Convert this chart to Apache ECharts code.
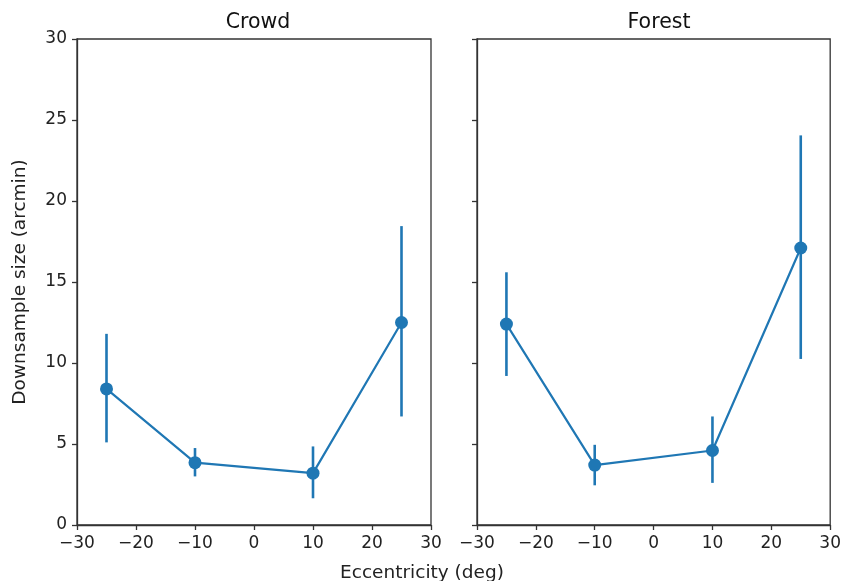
<!DOCTYPE html>
<html>
<head>
<meta charset="utf-8">
<script src="https://cdn.jsdelivr.net/npm/echarts@6/dist/echarts.min.js"></script>
<style>html,body{margin:0;padding:0;background:#fff;}#c{width:844px;height:581px;}</style>
</head>
<body>
<div id="c"></div>
<script>
var eccentricity = [-25, -10, 10, 25];
var crowdMean = [8.4, 3.85, 3.2, 12.5];
var crowdLow = [5.1, 3.0, 1.65, 6.7];
var crowdHigh = [11.8, 4.75, 4.85, 18.45];
var forestMean = [12.4, 3.7, 4.6, 17.1];
var forestLow = [9.2, 2.45, 2.6, 10.25];
var forestHigh = [15.6, 4.95, 6.7, 24.05];
var panelTitles = ['Crowd', 'Forest'];
var xTicks = [-30, -20, -10, 0, 10, 20, 30];
var yTicks = [0, 5, 10, 15, 20, 25, 30];

var COLOR = '#1f77b4';
var FONT = 'DejaVu Sans';
var TICK_FS = 17;
var LABEL_FS = 18.5;
var chart = echarts.init(document.getElementById('c'), null, {renderer: 'canvas'});

function pts(mean) { return eccentricity.map(function (x, i) { return [x, mean[i]]; }); }
function errs(lo, hi) { return eccentricity.map(function (x, i) { return [x, lo[i], hi[i]]; }); }
function fmtMinus(v) { return String(v).replace('-', '\u2212'); }

function errSeries(idx, data) {
  return {
    type: 'custom', xAxisIndex: idx, yAxisIndex: idx, data: data, z: 3,
    renderItem: function (params, api) {
      var a = api.coord([api.value(0), api.value(1)]);
      var b = api.coord([api.value(0), api.value(2)]);
      return {type: 'line', shape: {x1: a[0], y1: a[1], x2: b[0], y2: b[1]},
        style: {stroke: COLOR, lineWidth: 2.6}};
    }
  };
}
function lineSeries(idx, data) {
  return {type: 'line', xAxisIndex: idx, yAxisIndex: idx, data: data, z: 4,
    symbol: 'circle', symbolSize: 13, showSymbol: true,
    lineStyle: {color: COLOR, width: 2.2}, itemStyle: {color: COLOR}, animation: false};
}
function xAxis(idx) {
  return {type: 'value', gridIndex: idx, min: -30, max: 30, interval: 10,
    axisLine: {show: true, onZero: false, lineStyle: {color: '#333', width: 1.3}},
    axisTick: {show: true, inside: false, length: 5, lineStyle: {color: '#333', width: 1.3}},
    axisLabel: {show: true, formatter: fmtMinus, color: '#222', fontFamily: FONT, fontSize: TICK_FS, margin: 10},
    splitLine: {show: false}};
}
function yAxis(idx) {
  return {type: 'value', gridIndex: idx, min: 0, max: 30, interval: 5,
    axisLine: {show: true, onZero: false, lineStyle: {color: '#333', width: 1.3}},
    axisTick: {show: true, inside: false, length: 5, lineStyle: {color: '#333', width: 1.3}},
    axisLabel: {show: idx === 0, color: '#222', fontFamily: FONT, fontSize: TICK_FS, margin: 10},
    splitLine: {show: false},
    name: idx === 0 ? 'Downsample size (arcmin)' : '', nameLocation: 'middle', nameGap: 47,
    nameTextStyle: {color: '#222', fontFamily: FONT, fontSize: LABEL_FS}};
}

chart.setOption({
  animation: false,
  title: [
    {text: panelTitles[0], left: 253, top: 7, textAlign: 'center',
     textStyle: {fontFamily: FONT, fontSize: 20.5, fontWeight: 'normal', color: '#111'}},
    {text: panelTitles[1], left: 654, top: 7, textAlign: 'center',
     textStyle: {fontFamily: FONT, fontSize: 20.5, fontWeight: 'normal', color: '#111'}}
  ],
  graphic: [{type: 'text', left: 'center', top: 564,
    style: {text: 'Eccentricity (deg)', font: LABEL_FS + 'px "DejaVu Sans"', fill: '#222'}}],
  grid: [
    {left: 77, top: 39, width: 354, height: 486, show: true, borderColor: '#333', borderWidth: 1.3, backgroundColor: 'transparent'},
    {left: 477, top: 39, width: 354, height: 486, show: true, borderColor: '#333', borderWidth: 1.3, backgroundColor: 'transparent'}
  ],
  xAxis: [xAxis(0), xAxis(1)],
  yAxis: [yAxis(0), yAxis(1)],
  series: [
    errSeries(0, errs(crowdLow, crowdHigh)),
    lineSeries(0, pts(crowdMean)),
    errSeries(1, errs(forestLow, forestHigh)),
    lineSeries(1, pts(forestMean))
  ]
});
</script>
</body>
</html>
